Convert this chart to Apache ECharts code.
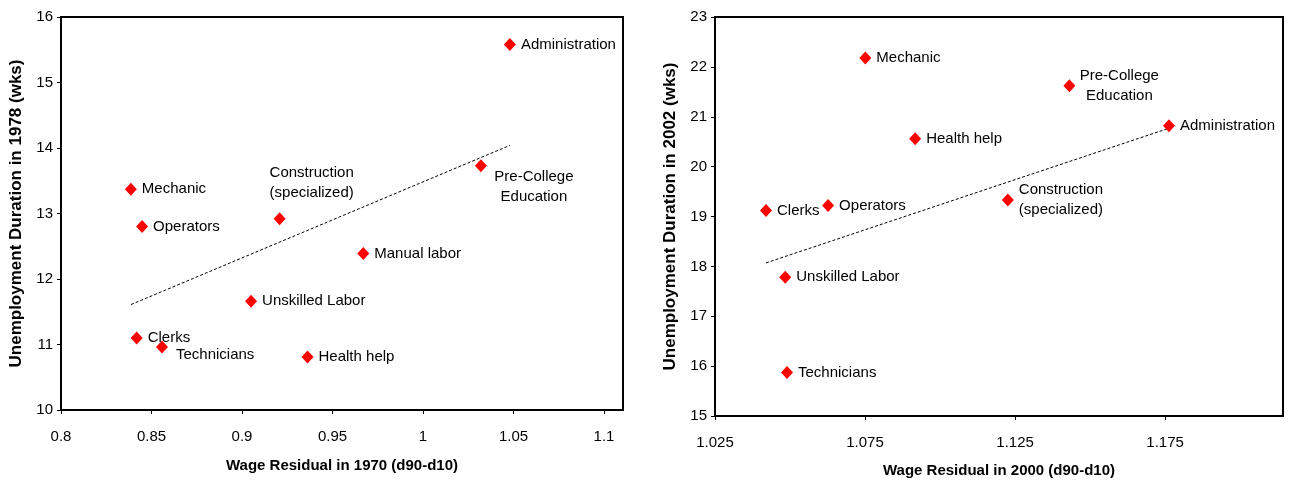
<!DOCTYPE html>
<html>
<head>
<meta charset="utf-8">
<script src="https://cdn.jsdelivr.net/npm/echarts@6/dist/echarts.min.js"></script>
<style>
html,body{margin:0;padding:0;background:#fff;}
#c{width:1291px;height:482px;}
</style>
</head>
<body>
<div id="c"></div>
<script>
// ---- Data ----
const occ1970 = ['Administration','Pre-College Education','Construction (specialized)','Mechanic','Operators','Manual labor','Unskilled Labor','Clerks','Technicians','Health help'];
const wage1970 = [1.048, 1.032, 0.9208, 0.8386, 0.8448, 0.967, 0.905, 0.8418, 0.8558, 0.9362];
const dur1978 = [15.58, 13.73, 12.92, 13.37, 12.80, 12.39, 11.66, 11.10, 10.96, 10.81];
const trend1970X = [0.8387, 1.048];
const trend1970Y = [11.61, 14.04];
const ticks1970 = [0.8, 0.85, 0.9, 0.95, 1, 1.05, 1.1];

const occ2000 = ['Mechanic','Pre-College Education','Administration','Health help','Construction (specialized)','Operators','Clerks','Unskilled Labor','Technicians'];
const wage2000 = [1.0751, 1.1431, 1.1763, 1.0917, 1.1226, 1.0627, 1.0420, 1.0484, 1.0490];
const dur2002 = [22.18, 21.62, 20.82, 20.56, 19.33, 19.22, 19.12, 17.78, 15.87];
const trend2000X = [1.042, 1.1763];
const trend2000Y = [18.07, 20.77];
const ticks2000 = [1.025, 1.075, 1.125, 1.175];

// ---- Styles ----
const FONT = '"Liberation Sans", Arial, Helvetica, sans-serif';
const lineBreaks = {
  'Pre-College Education': 'Pre-College\nEducation',
  'Construction (specialized)': 'Construction\n(specialized)'
};
const labelPlace1 = {
  'Pre-College Education': {position: 'inside', offset: [53, 21], align: 'center'},
  'Construction (specialized)': {position: 'inside', offset: [32, -36], align: 'center'},
  'Technicians': {position: 'right', offset: [3, 8]}
};
const labelPlace2 = {
  'Pre-College Education': {position: 'inside', offset: [50, 0], align: 'center'}
};
const diamond = 'path://M6,0L12,6L6,12L0,6Z';

function points(names, xs, ys, place) {
  return names.map((n, i) => {
    const item = {name: n, value: [xs[i], ys[i]]};
    if (place[n]) item.label = Object.assign({}, place[n]);
    return item;
  });
}
function trend(xs, ys) { return xs.map((x, i) => [x, ys[i]]); }

const axisCommon = {
  axisLine: {show: true, onZero: false, lineStyle: {color: '#000', width: 2}},
  axisTick: {show: true, inside: false, length: 4, lineStyle: {color: '#000', width: 1}},
  splitLine: {show: false},
  nameTextStyle: {color: '#000', fontFamily: FONT, fontSize: 15, fontWeight: 'bold'},
  nameLocation: 'middle'
};
function xAxis(gridIndex, min, max, ticks, name, margin, gap) {
  return Object.assign({}, axisCommon, {
    type: 'value', gridIndex, min, max, name, nameGap: gap,
    axisTick: Object.assign({}, axisCommon.axisTick, {customValues: ticks}),
    axisLabel: {customValues: ticks, color: '#000', fontFamily: FONT, fontSize: 15, margin: margin,
      showMinLabel: true, showMaxLabel: true}
  });
}
function yAxis(gridIndex, min, max, name) {
  return Object.assign({}, axisCommon, {
    type: 'value', gridIndex, min, max, interval: 1, name, nameGap: 36,
    nameTextStyle: {color: '#000', fontFamily: FONT, fontSize: 17, fontWeight: 'bold'},
    axisLabel: {color: '#000', fontFamily: FONT, fontSize: 15, margin: 8}
  });
}
const labelBase = {
  show: true, position: 'right', distance: 5, color: '#000',
  fontFamily: FONT, fontSize: 15, lineHeight: 20,
  formatter: p => lineBreaks[p.name] || p.name
};
function scatter(idx, data) {
  return {
    type: 'scatter', xAxisIndex: idx, yAxisIndex: idx, data,
    symbol: diamond, symbolSize: [12, 13],
    itemStyle: {color: '#ff0000', opacity: 1},
    label: labelBase, z: 3, silent: true
  };
}
function trendLine(idx, data) {
  return {
    type: 'line', xAxisIndex: idx, yAxisIndex: idx, data,
    symbol: 'none', silent: true, z: 2,
    lineStyle: {color: '#000', width: 1, type: [3, 2]}
  };
}

const chart = echarts.init(document.getElementById('c'), null, {renderer: 'canvas'});
chart.setOption({
  animation: false,
  backgroundColor: '#fff',
  grid: [
    {left: 61, top: 17, width: 562, bottom: 72, show: true, borderColor: '#000', borderWidth: 2, backgroundColor: 'transparent', outerBoundsMode: 'none', containLabel: false},
    {left: 715, top: 17, width: 568, bottom: 66, show: true, borderColor: '#000', borderWidth: 2, backgroundColor: 'transparent', outerBoundsMode: 'none', containLabel: false}
  ],
  xAxis: [
    xAxis(0, 0.8, 1.1105, ticks1970, 'Wage Residual in 1970 (d90-d10)', 19, 48),
    xAxis(1, 1.025, 1.2143, ticks2000, 'Wage Residual in 2000 (d90-d10)', 19, 47)
  ],
  yAxis: [
    yAxis(0, 10, 16, 'Unemployment Duration in 1978 (wks)'),
    yAxis(1, 15, 23, 'Unemployment Duration in 2002 (wks)')
  ],
  series: [
    trendLine(0, trend(trend1970X, trend1970Y)),
    scatter(0, points(occ1970, wage1970, dur1978, labelPlace1)),
    trendLine(1, trend(trend2000X, trend2000Y)),
    scatter(1, points(occ2000, wage2000, dur2002, labelPlace2))
  ]
});
</script>
</body>
</html>
